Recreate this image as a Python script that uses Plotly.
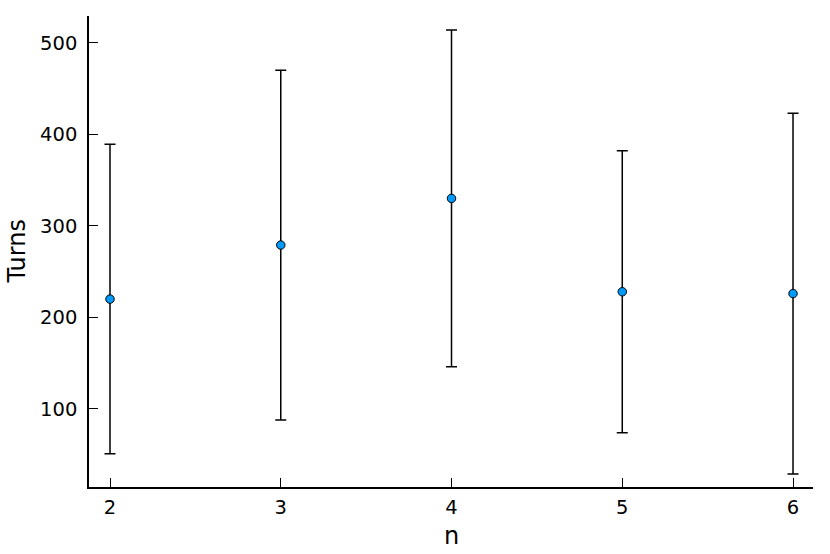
import plotly.graph_objects as go

n_values = [2, 3, 4, 5, 6]
turns_mean = [220, 279, 330, 228, 226]
turns_err = [169, 191, 184, 154, 197]
x_ticks = [2, 3, 4, 5, 6]
y_ticks = [100, 200, 300, 400, 500]

_FONT = "DejaVu Sans, sans-serif"
_BLUE = "#009AFA"
_TITLE_FONT = dict(size=24, color="black", family=_FONT)

fig = go.Figure()
fig.add_trace(
    go.Scatter(
        x=n_values,
        y=turns_mean,
        mode="markers",
        marker=dict(size=8.5, color=_BLUE, line=dict(color="black", width=1)),
        error_y=dict(
            type="data",
            array=turns_err,
            visible=True,
            color="black",
            thickness=1.5,
            width=5.5,
        ),
        showlegend=False,
    )
)

axis_common = dict(
    showgrid=False,
    zeroline=False,
    showline=True,
    linecolor="black",
    linewidth=1.5,
    ticks="inside",
    ticklen=9,
    tickwidth=1.2,
    tickcolor="black",
    tickfont=dict(size=19.5, color="black", family=_FONT),
    mirror=False,
    automargin=False,
)

fig.update_layout(
    width=830,
    height=554,
    paper_bgcolor="white",
    plot_bgcolor="white",
    font=dict(family=_FONT, color="black"),
    margin=dict(l=89, r=17, t=16, b=67),
    xaxis=dict(axis_common, range=[1.877, 6.117], tickvals=x_ticks, ticklabelstandoff=2),
    yaxis=dict(axis_common, range=[14.75, 529.2], tickvals=y_ticks, ticklabelstandoff=6),
)

# axis titles as annotations (standoff is ignored without automargin)
fig.add_annotation(
    text="n", xref="paper", yref="paper", x=0.5, y=0,
    yanchor="middle", yshift=-49, showarrow=False, font=_TITLE_FONT,
)
fig.add_annotation(
    text="Turns", xref="paper", yref="paper", x=0, y=0.5, textangle=-90,
    xanchor="center", xshift=-73, showarrow=False, font=_TITLE_FONT,
)

# drop the default 8px body margin so the figure fills the window
fig.write_html(
    "out.html",
    config={"displayModeBar": False},
    post_script="document.body.style.margin='0';",
)
